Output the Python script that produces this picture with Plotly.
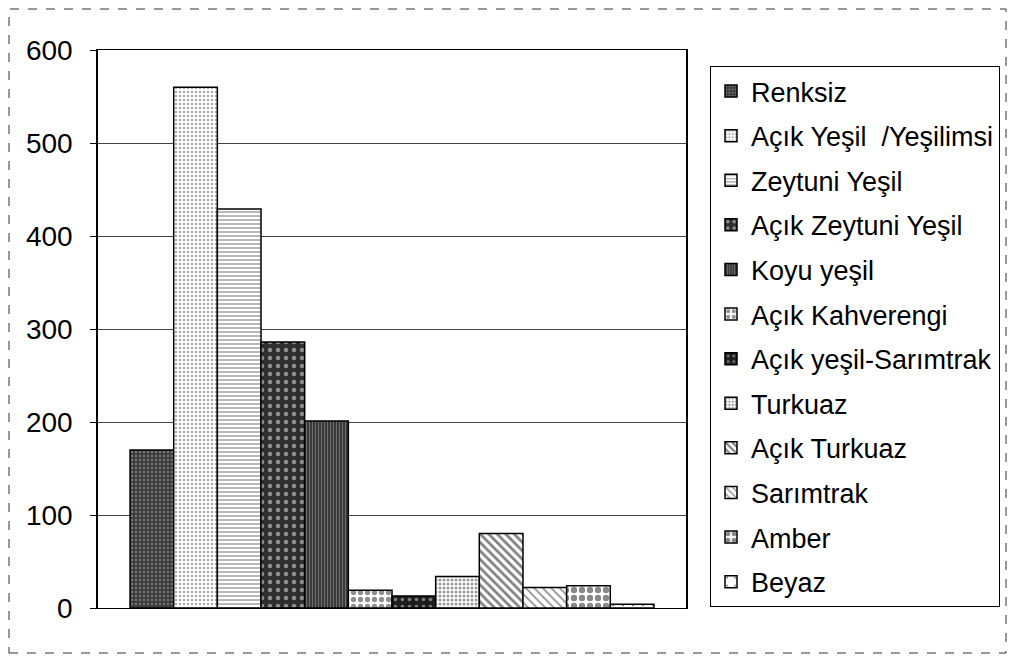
import plotly.graph_objects as go

# ---- data ----
categories = [""]
series_names = [
    "Renksiz",
    "Açık Yeşil \u00a0/Yeşilimsi",
    "Zeytuni Yeşil",
    "Açık Zeytuni Yeşil",
    "Koyu yeşil",
    "Açık Kahverengi",
    "Açık yeşil-Sarımtrak",
    "Turkuaz",
    "Açık Turkuaz",
    "Sarımtrak",
    "Amber",
    "Beyaz",
]
series_values = [170, 560, 429, 286, 201, 19, 13, 34, 80, 22, 24, 4]
y_ticks = [0, 100, 200, 300, 400, 500, 600]

# ---- styles (grayscale hatch patterns) ----
styles = [
    dict(bg="#3c3c3c", fg="#b0b0b0", shape=".", size=4, sol=0.3),
    dict(bg="#ffffff", fg="#555555", shape=".", size=4, sol=0.35),
    dict(bg="#ffffff", fg="#333333", shape="-", size=4, sol=0.35),
    dict(bg="#2e2e2e", fg="#eeeeee", shape=".", size=8, sol=0.25),
    dict(bg="#3a3a3a", fg="#a0a0a0", shape="|", size=3, sol=0.35),
    dict(bg="#ffffff", fg="#222222", shape=".", size=7, sol=0.45),
    dict(bg="#1e1e1e", fg="#dddddd", shape=".", size=7, sol=0.2),
    dict(bg="#ffffff", fg="#333333", shape=".", size=4, sol=0.45),
    dict(bg="#ffffff", fg="#000000", shape="\\", size=6, sol=0.45),
    dict(bg="#ffffff", fg="#222222", shape="\\", size=6, sol=0.3),
    dict(bg="#ffffff", fg="#111111", shape=".", size=8, sol=0.5),
    dict(bg="#ffffff", fg="#000000", shape=".", size=10, sol=0.05),
]

OFF = 8  # browser default body margin
W, H = 1015 - OFF, 656 - OFF
# target page-pixel positions of the plot area
PL, PR, PT, PB = 98, 686, 50, 608
L, R, T, B = PL - OFF, W - (PR - OFF), PT - OFF, H - (PB - OFF)

fig = go.Figure()
for i, (name, val) in enumerate(zip(series_names, series_values)):
    s = styles[i]
    fig.add_trace(go.Bar(
        x=categories, y=[val], name=name, legendgroup=f"g{i}",
        marker=dict(
            color=s["bg"],
            line=dict(color="black", width=1.5),
            pattern=dict(shape=s["shape"], fgcolor=s["fg"], bgcolor=s["bg"],
                         size=s["size"], solidity=s["sol"], fillmode="overlay"),
        ),
    ))

pw, ph = PR - PL, PB - PT
def px_x(x):
    return (x - PL) / pw
def px_y(y):
    return (PB - y) / ph

fig.update_layout(
    width=W, height=H,
    margin=dict(l=L, r=R, t=T, b=B, autoexpand=False),
    paper_bgcolor="white", plot_bgcolor="white",
    barmode="group", bargap=0.109, bargroupgap=0,
    font=dict(family="Arial, Liberation Sans, sans-serif", color="black"),
    showlegend=True,
    legend=dict(
        x=px_x(710), y=px_y(66), xanchor="left", yanchor="top",
        bordercolor="black", borderwidth=1, bgcolor="white",
        font=dict(size=27, family="Arial, Liberation Sans, sans-serif", color="black"),
        tracegroupgap=6.5, traceorder="grouped", itemwidth=30,
    ),
    xaxis=dict(showticklabels=False, ticks="", showgrid=False,
               showline=True, linecolor="black", linewidth=1, mirror=True,
               zeroline=False),
    yaxis=dict(range=[0, 600], tickvals=y_ticks, ticks="outside", ticklen=6,
               tickcolor="black", showline=True, linecolor="black", linewidth=1.5,
               mirror=True, showgrid=True, gridcolor="#444444", gridwidth=1,
               zeroline=False, tickfont=dict(size=28, color="black"),
               ticklabelstandoff=12),
    shapes=[dict(type="rect", xref="paper", yref="paper",
                 x0=px_x(9), x1=px_x(1006), y0=px_y(653), y1=px_y(9),
                 line=dict(color="#333333", width=1, dash="dash"),
                 fillcolor="rgba(0,0,0,0)", layer="below")],
)

fig.write_html("out.html")
